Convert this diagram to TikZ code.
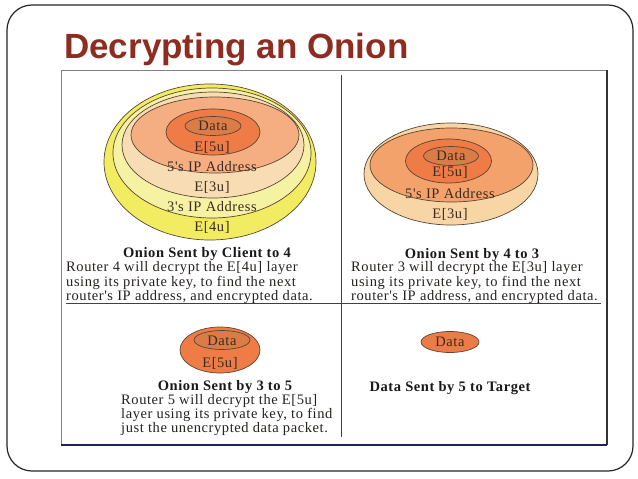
\documentclass[tikz,border=0pt]{standalone}
\usepackage{fontspec}
\setmainfont{Liberation Serif}
\newfontfamily\titlefont{Liberation Sans}
\newfontfamily\capfont[LetterSpace=4]{Liberation Serif}
\definecolor{titlecol}{HTML}{8F2C22}
\definecolor{lblcol}{HTML}{3E2A1E}
\definecolor{capcol}{HTML}{262220}
\definecolor{edgecol}{HTML}{5A4535}
\definecolor{yelA}{HTML}{F2EC62}
\definecolor{yelB}{HTML}{F6F2A4}
\definecolor{creamL}{HTML}{F8DDB4}
\definecolor{peachL}{HTML}{F5AE82}
\definecolor{orangeE}{HTML}{EF7B47}
\definecolor{dataC}{HTML}{DA7C48}
\definecolor{creamR}{HTML}{F8D5A5}
\definecolor{salmonR}{HTML}{F4A26C}
\definecolor{navyline}{HTML}{1C2550}
\begin{document}
\begin{tikzpicture}[x=1pt,y=-1pt,
  lbl/.style={font=\capfont\fontsize{14.5}{15}\selectfont, text=lblcol, inner sep=0pt, anchor=base},
  capline/.style={font=\capfont\fontsize{14.5}{15}\selectfont, text=capcol, inner sep=0pt, anchor=base west},
  caphead/.style={font=\capfont\bfseries\fontsize{14.5}{15}\selectfont, text=black!90, inner sep=0pt, anchor=base},
  layer/.style={draw=edgecol, line width=0.7pt}]
\useasboundingbox (0,0) rectangle (638,479);
\fill[white] (0,0) rectangle (638,479);
% slide border
\draw[black!85, line width=1.2pt, rounded corners=25pt] (7,5) rectangle (633,471);
% title
\node[anchor=base west, font=\titlefont\bfseries\fontsize{35}{40}\selectfont, text=titlecol, inner sep=0pt] (title) at (64,58) {Decrypting an Onion};
% inner frame
\draw[black!50, line width=1pt] (61,445) -- (61,70) -- (607,70);
\draw[black!80, line width=1.2pt] (607,70) -- (607,445);
\draw[navyline, line width=2pt] (61,445) -- (607,445);
% dividers
\draw[black!75, line width=0.9pt] (341,75) -- (341,437);
\draw[black!75, line width=0.9pt] (66,303) -- (601,303);

% ---- onion 1 (client to 4)
\draw[layer, fill=yelA] (210,162) ellipse [x radius=106, y radius=78];
\draw[layer, fill=yelB] (212,153) ellipse [x radius=99, y radius=65];
\draw[layer, fill=creamL] (213,145) ellipse [x radius=91, y radius=53];
\draw[layer, fill=peachL] (215,135) ellipse [x radius=84, y radius=38];
\draw[layer, fill=orangeE] (213,132) ellipse [x radius=47, y radius=23];
\draw[layer, fill=dataC] (213,126) ellipse [x radius=28, y radius=9.5];
\node[lbl] (a1) at (213,130.5) {Data};
\node[lbl] (a2) at (212,151.5) {E[5u]};
\node[lbl] (a3) at (212,171.5) {5's IP Address};
\node[lbl] (a4) at (212,191.5) {E[3u]};
\node[lbl] (a5) at (212,211.5) {3's IP Address};
\node[lbl] (a6) at (212,231.5) {E[4u]};
\node[caphead] (h1) at (207,257) {Onion Sent by Client to 4};
\node[capline] (c11) at (66,271.5) {Router 4 will decrypt the E[4u] layer};
\node[capline] (c12) at (66,286) {using its private key, to find the next};
\node[capline] (c13) at (66,300) {router's IP address, and encrypted data.};

% ---- onion 2 (4 to 3)
\draw[layer, fill=creamR] (451,174) ellipse [x radius=87, y radius=51];
\draw[layer, fill=salmonR] (451.5,165) ellipse [x radius=81.5, y radius=37];
\draw[layer, fill=orangeE] (448.5,161) ellipse [x radius=43, y radius=22];
\draw[layer, fill=dataC] (451,156) ellipse [x radius=27.5, y radius=9.5];
\node[lbl] (b1) at (451,160.5) {Data};
\node[lbl] (b2) at (450,176.5) {E[5u]};
\node[lbl] (b3) at (450,198.5) {5's IP Address};
\node[lbl] (b4) at (450,218.5) {E[3u]};
\node[caphead] (h2) at (472,258) {Onion Sent by 4 to 3};
\node[capline] (c21) at (351,271.5) {Router 3 will decrypt the E[3u] layer};
\node[capline] (c22) at (351,286) {using its private key, to find the next};
\node[capline] (c23) at (351,300) {router's IP address, and encrypted data.};

% ---- onion 3 (3 to 5)
\draw[layer, fill=orangeE] (220,350) ellipse [x radius=40, y radius=23];
\draw[layer, fill=dataC] (222,340) ellipse [x radius=28, y radius=9.5];
\node[lbl] (d1) at (222,345) {Data};
\node[lbl] (d2) at (220,367.5) {E[5u]};
\node[caphead] (h3) at (225,390) {Onion Sent by 3 to 5};
\node[capline] (c31) at (121,404) {Router 5 will decrypt the E[5u]};
\node[capline] (c32) at (121,418) {layer using its private key, to find};
\node[capline] (c33) at (121,432) {just the unencrypted data packet.};

% ---- data to target
\draw[layer, fill=orangeE!80!dataC] (450,342) ellipse [x radius=29, y radius=10.5];
\node[lbl] (e1) at (450,346.5) {Data};
\node[caphead] (h4) at (450,391) {Data Sent by 5 to Target};
\end{tikzpicture}
\end{document}
